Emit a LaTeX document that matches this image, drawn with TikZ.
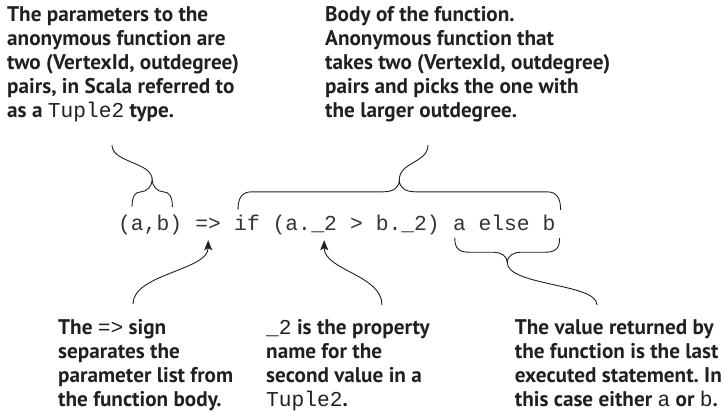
\documentclass[tikz,border=0pt]{standalone}
\usepackage{fontspec}
\setmainfont{PT Sans}
\newfontfamily\codefont{Liberation Mono}
\usetikzlibrary{arrows.meta,calc,positioning}
\definecolor{ink}{RGB}{35,31,32}
\newcommand{\snip}[1]{{\codefont\mdseries #1}}
\frenchspacing

\tikzset{
  note/.style={font=\bfseries\fontsize{21.2}{24}\selectfont, text=ink, align=left, anchor=north west, inner sep=0pt},
  codetxt/.style={font=\codefont\fontsize{21.33}{24}\selectfont, text=black!80, inner sep=0pt, text height=16pt, text depth=4pt, anchor=base west},
  curly/.style={draw=ink, line width=0.9pt},
  pointer/.style={draw=ink, line width=0.9pt, -{Stealth[length=10pt,width=8pt,inset=2pt]}},
}

\begin{document}
\begin{tikzpicture}[x=1pt, y=-1pt]
  \useasboundingbox (0,0) rectangle (723,412);
  % the code line
  \node[codetxt] (args) at (118,230) {(a,b)};
  \node[codetxt, right=12.8pt of args.base east, anchor=base west] (arrow) {=>};
  \node[codetxt, right=12.8pt of arrow.base east, anchor=base west] (cond) {if (a.};
  \node[codetxt] (prop) at (cond.base east) {\_2};
  \node[codetxt, right=12.8pt of prop.base east, anchor=base west] (cmp) {> b.\_2)};
  \node[codetxt, right=12.8pt of cmp.base east, anchor=base west] (res) {a else b};
  % notes
  \node[note] (params) at (7,6) {The parameters to the\\anonymous function are\\two (VertexId, outdegree)\\pairs, in Scala referred to\\as a \snip{Tuple2} type.};
  \node[note] (body) at (325,6) {Body of the function.\\Anonymous function that\\takes two (VertexId, outdegree)\\pairs and picks the one with\\the larger outdegree.};
  \node[note] (sign) at (58,319) {The \snip{=>} sign\\separates the\\parameter list from\\the function body.};
  \node[note] (propname) at (266,319) {\snip{\_2} is the property\\name for the\\second value in a\\\snip{Tuple2}.};
  \node[note, anchor=north east] (result) at (722,319) {The value returned by\\the function is the last\\executed statement. In\\this case either \snip{a} or \snip{b}.};
  % brace over the parameters
  \coordinate (al) at ($(args.north west)+(14,-7)$);
  \coordinate (ar) at ($(args.north east)+(-10,-7)$);
  \coordinate (atip) at ($(al)!0.5!(ar)+(0,-27)$);
  \coordinate (paramsend) at (112,145);
  \draw[curly] (al) .. controls +(0,-10) and +(-6,0) .. ++(9,-15) .. controls +(6,0) and +(0,6) .. (atip) .. controls +(0,6) and +(-6,0) .. ++(11,12) .. controls +(6,0) and +(0,-10) .. (ar);
  \draw[curly] (atip) .. controls +(0,-18) and +(0,18) .. (paramsend);
  % brace over the body
  \coordinate (bl) at ($(cond.north west)+(4,-4)$);
  \coordinate (br) at ($(res.north east)+(5,-4)$);
  \coordinate (btip) at ($(bl)!0.5!(br)+(0,-30)$);
  \coordinate (bodyend) at (428,145);
  \draw[curly] (bl) .. controls +(0,-12) and +(-10,0) .. ++(14,-18) -- ($(btip)+(-16,12)$) .. controls +(10,0) and +(0,8) .. (btip) .. controls +(0,8) and +(-10,0) .. ($(btip)+(16,12)$) -- ($(br)+(-14,-18)$) .. controls +(10,0) and +(0,-12) .. (br);
  \draw[curly] (btip) .. controls +(0,-18) and +(0,18) .. (bodyend);
  % brace under the result
  \coordinate (rl) at ($(res.south west)+(2,4)$);
  \coordinate (rr) at ($(res.south east)+(4,4)$);
  \coordinate (rtip) at ($(rl)!0.5!(rr)+(0,24)$);
  \coordinate (resend) at (597,305);
  \draw[curly] (rl) .. controls +(0,10) and +(-10,0) .. ++(14,14) -- ($(rtip)+(-14,-10)$) .. controls +(8,0) and +(0,-6) .. (rtip) .. controls +(0,-6) and +(-8,0) .. ($(rtip)+(14,-10)$) -- ($(rr)+(-14,14)$) .. controls +(10,0) and +(0,10) .. (rr);
  \draw[curly] (rtip) .. controls +(0,24) and +(0,-22) .. (resend);
  % pointers
  \draw[pointer] ($(sign.north west)+(75,-15)$) .. controls +(0,-30) and +(0,30) .. ($(arrow.south)+(0,6)$);
  \draw[pointer] ($(propname.north west)+(116,-14)$) .. controls +(0,-30) and +(0,30) .. ($(prop.south)+(0,6)$);
\end{tikzpicture}
\end{document}
